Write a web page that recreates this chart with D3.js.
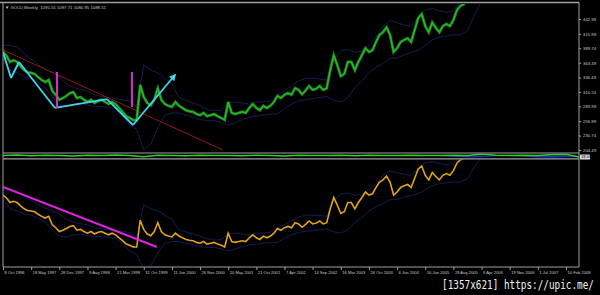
<!DOCTYPE html>
<html>
<head>
<meta charset="utf-8">
<script src="https://cdn.jsdelivr.net/npm/d3@7"></script>
<style>
  html, body { margin: 0; padding: 0; background: #000; overflow: hidden; }
</style>
</head>
<body>
<div id="chart"></div>
<script>
// date labels on the time axis, one every 32 weekly bars
const dateLabels = ["8 Oct 1996", "18 May 1997", "28 Dec 1997", "9 Aug 1998", "21 Mar 1999",
  "31 Oct 1999", "11 Jun 2000", "26 Nov 2000", "20 May 2001", "21 Oct 2001", "7 Apr 2002",
  "14 Sep 2002", "16 Mar 2003", "26 Oct 2003", "6 Jun 2004", "16 Jan 2005", "28 Aug 2005",
  "9 Apr 2006", "19 Nov 2006", "1 Jul 2007", "10 Feb 2008"];

// price scale labels (top window)
const priceTicks = [442.99, 415.99, 389.74, 363.49, 336.49, 310.24, 283.99, 256.99, 230.74, 204.49];

// gold closes, one value every 4 weeks
const closes = [383, 376, 365, 368, 365, 357, 350, 346, 345, 343,
  337, 332, 328, 332, 312, 305, 296, 299, 303, 308,
  310, 299, 301, 296, 292, 296, 290, 294, 296, 292,
  288, 292, 288, 281, 274, 266, 263, 259, 259, 323,
  301, 290, 286, 296, 317, 296, 288, 285, 283, 292,
  285, 281, 277, 275, 274, 270, 268, 272, 266, 268,
  270, 266, 263, 259, 292, 272, 270, 272, 274, 272,
  281, 288, 281, 277, 285, 281, 285, 292, 303, 299,
  305, 308, 305, 317, 314, 306, 313, 321, 314, 316,
  321, 314, 317, 350, 377, 359, 339, 343, 365, 365,
  350, 365, 377, 390, 383, 386, 401, 414, 419, 428,
  414, 383, 390, 401, 405, 408, 401, 423, 445, 452,
  430, 419, 437, 427, 419, 430, 434, 430, 441, 459,
  467, 470, 485, 495, 505];

// envelope bands, one value every 8 weeks
const bandUpper = [395, 395, 392, 380, 370, 360, 352, 345, 338, 325,
  318, 315, 312, 305, 302, 300, 298, 296, 294, 282,
  360, 350, 345, 335, 325, 300, 295, 290, 285, 278,
  276, 276, 290, 292, 290, 288, 292, 292, 294, 305,
  312, 322, 330, 335, 335, 334, 332, 370, 385, 388,
  382, 385, 395, 410, 430, 440, 436, 432, 430, 445,
  460, 462, 458, 455, 458, 475, 490, 500, 510, 520, 530];
const bandLower = [372, 350, 345, 338, 335, 328, 318, 302, 285, 283,
  288, 290, 286, 284, 284, 282, 280, 266, 250, 242,
  205, 215, 245, 268, 272, 272, 268, 264, 260, 258,
  258, 255, 250, 254, 260, 264, 266, 268, 270, 270,
  280, 288, 294, 296, 298, 300, 302, 295, 292, 300,
  318, 330, 345, 355, 362, 372, 372, 378, 382, 386,
  395, 405, 410, 412, 414, 414, 422, 450, 475, 480, 490];

// small oscillator strip, one value every 16 weeks
const stripLine = [0.1, 0.3, -0.1, 0.2, 0, -0.2, 0.2, 0.1, 0.3, 0, -0.6, 0.2, 0.1, -0.1,
  0.2, 0, 0.1, -0.1, 0.2, 0.1, -0.2, 0.2, 0, 0.1, 0.2, -0.1, 0.2, 0.1, 0, 0.2,
  0.1, 0, 0.2, 0.1, 0.8, 0.2, 0, 0.2, 0.1, 0.5, 0.7, -0.8];
const stripBlue = [0, 0, 0, 0, 0, 0, 0, 0, 0, 0, 0, 0, 0, 0, 0, 0, 0, 0, 0, 0,
  0, 0, 0, 0, 0, 0, 0, 0, 0, 0, 0, 0, 0.5, 0.8, 0.7, 0.3, 0.2, 0.4, 0.8, 0.9, 0.7, 0.4];

// drawn objects: [week, price]
const redTrend = [[0, 386.6], [250, 204.5]];
const zigzag = [[0, 382.9], [9.1, 335.6], [18.2, 364.7], [59.1, 281], [118.2, 297.3], [147.8, 250], [195.5, 341]];
const magentaBars = [[61.4, 346.5, 280.9], [146.6, 346.5, 282.8]];
const lowerTrend = [[0, 402], [175, 259]];

const width = 600, height = 295;
const plot = { left: 3, right: 579, top: 3, bottom: 267 };
const smallFont = "Liberation Sans, Arial, sans-serif";

const svg = d3.select("#chart").append("svg")
  .attr("width", width)
  .attr("height", height)
  .style("display", "block")
  .style("background", "#000");

// scales
const x = d3.scaleLinear().domain([0, 640]).range([3, 566]);
const yTop = d3.scaleLinear().domain([204.49, 442.99]).range([150, 19]);
const yBot = d3.scaleLinear().domain([259, 383]).range([247, 195]);
const yStrip = d3.scaleLinear().domain([-1, 1]).range([157.6, 153.6]);

const defs = svg.append("defs");
defs.append("clipPath").attr("id", "clipTop").append("rect")
  .attr("x", plot.left).attr("y", 4).attr("width", plot.right - plot.left).attr("height", 148.5);
defs.append("clipPath").attr("id", "clipBot").append("rect")
  .attr("x", plot.left).attr("y", 159.5).attr("width", plot.right - plot.left).attr("height", plot.bottom - 159.5);
defs.append("clipPath").attr("id", "clipStrip").append("rect")
  .attr("x", plot.left).attr("y", 153.5).attr("width", plot.right - plot.left).attr("height", 4.5);
defs.append("marker")
  .attr("id", "arrow")
  .attr("viewBox", "0 0 8 8")
  .attr("refX", 6).attr("refY", 4)
  .attr("markerWidth", 7).attr("markerHeight", 7)
  .attr("markerUnits", "userSpaceOnUse")
  .attr("orient", "auto")
  .append("path").attr("d", "M0,0 L8,4 L0,8 Z").attr("fill", "#44d4ea");

const lineFor = (yScale, step) => d3.line()
  .x((d, i) => x(i * step))
  .y((d) => yScale(d));

// ---- top window ----
const topPane = svg.append("g").attr("clip-path", "url(#clipTop)");

[bandUpper, bandLower].forEach((b) => {
  topPane.append("path").datum(b)
    .attr("d", lineFor(yTop, 8))
    .attr("fill", "none").attr("stroke", "#1a2466").attr("stroke-width", 0.8);
});

topPane.append("path").datum(redTrend)
  .attr("d", d3.line().x((d) => x(d[0])).y((d) => yTop(d[1])))
  .attr("stroke", "#951515").attr("stroke-width", 1).attr("fill", "none");

topPane.append("path").datum(closes)
  .attr("d", lineFor(yTop, 4))
  .attr("fill", "none").attr("stroke", "#1b8a1b").attr("stroke-width", 2.8)
  .attr("stroke-linejoin", "miter");
topPane.append("path").datum(closes)
  .attr("d", lineFor(yTop, 4))
  .attr("fill", "none").attr("stroke", "#33c033").attr("stroke-width", 1);

// zigzag arrows
d3.pairs(zigzag).forEach(([a, b], i) => {
  topPane.append("line")
    .attr("x1", x(a[0])).attr("y1", yTop(a[1]))
    .attr("x2", x(b[0])).attr("y2", yTop(b[1]))
    .attr("stroke", "#44d4ea").attr("stroke-width", 1.8)
    .attr("marker-end", i === zigzag.length - 2 ? "url(#arrow)" : null);
});

topPane.selectAll(".vbar").data(magentaBars).enter().append("line")
  .attr("x1", (d) => x(d[0])).attr("x2", (d) => x(d[0]))
  .attr("y1", (d) => yTop(d[1])).attr("y2", (d) => yTop(d[2]))
  .attr("stroke", "#d030d0").attr("stroke-width", 2);

// ---- oscillator strip ----
const stripPane = svg.append("g").attr("clip-path", "url(#clipStrip)");
stripPane.append("path").datum(stripBlue)
  .attr("d", d3.area().x((d, i) => x(i * 16)).y0(yStrip(0)).y1((d) => yStrip(-d * 1.2)))
  .attr("fill", "#1c34b8");
stripPane.append("path").datum(stripLine)
  .attr("d", lineFor(yStrip, 16))
  .attr("fill", "none").attr("stroke", "#2fd02f").attr("stroke-width", 1.5);

// ---- bottom window ----
const botPane = svg.append("g").attr("clip-path", "url(#clipBot)");
[bandUpper, bandLower].forEach((b) => {
  botPane.append("path").datum(b)
    .attr("d", lineFor(yBot, 8))
    .attr("fill", "none").attr("stroke", "#1a2466").attr("stroke-width", 0.8);
});
botPane.append("path").datum(closes)
  .attr("d", lineFor(yBot, 4))
  .attr("fill", "none").attr("stroke", "#e0a31c").attr("stroke-width", 1.6);
botPane.append("path").datum(lowerTrend)
  .attr("d", d3.line().x((d) => x(d[0])).y((d) => yBot(d[1])))
  .attr("stroke", "#e022e0").attr("stroke-width", 2).attr("fill", "none");

// ---- frame ----
const frame = svg.append("g").attr("stroke", "#a0a0a0").attr("fill", "none");
frame.append("line").attr("x1", 0).attr("x2", plot.right).attr("y1", 2.5).attr("y2", 2.5).attr("stroke-width", 1.5);
frame.append("line").attr("x1", plot.left).attr("x2", plot.left).attr("y1", 2.5).attr("y2", plot.bottom);
frame.append("line").attr("x1", plot.right).attr("x2", plot.right).attr("y1", 2.5).attr("y2", plot.bottom);
frame.append("line").attr("x1", plot.left).attr("x2", plot.right).attr("y1", plot.bottom).attr("y2", plot.bottom);
frame.append("line").attr("x1", plot.left).attr("x2", plot.right).attr("y1", 153).attr("y2", 153).attr("stroke-width", 1.2);
frame.append("line").attr("x1", plot.left).attr("x2", plot.right).attr("y1", 158.8).attr("y2", 158.8).attr("stroke-width", 1.2);

// price axis
const yAxis = svg.append("g")
  .attr("transform", `translate(${plot.right},0)`)
  .call(d3.axisRight(yTop).tickValues(priceTicks).tickSize(2).tickFormat(d3.format(".2f")));
yAxis.select(".domain").remove();
yAxis.selectAll("line").attr("stroke", "#a0a0a0");
yAxis.selectAll("text").attr("fill", "#c8c8c8").attr("font-size", "4.3px")
  .attr("font-family", smallFont).attr("x", 4);

// current value box in the strip
svg.append("rect").attr("x", 580).attr("y", 154.5).attr("width", 10).attr("height", 5).attr("fill", "#d8d8d8");
svg.append("text").attr("x", 581).attr("y", 158.4).text("18.099")
  .attr("font-size", "4.2px").attr("font-family", smallFont).attr("fill", "#000");

// time axis
const xAxis = svg.append("g")
  .attr("transform", `translate(0,${plot.bottom})`)
  .call(d3.axisBottom(x).tickValues(dateLabels.map((d, i) => i * 32)).tickSize(3)
    .tickFormat((d, i) => dateLabels[i]));
xAxis.select(".domain").remove();
xAxis.selectAll("line").attr("stroke", "#a0a0a0");
xAxis.selectAll("text").attr("fill", "#c8c8c8").attr("font-size", "4.1px")
  .attr("font-family", smallFont)
  .attr("text-anchor", "start").attr("x", 1).attr("dy", 0).attr("y", 6.8);

// title
svg.append("text").attr("x", 5).attr("y", 8.5)
  .text("\u25BC GOLD,Weekly  1095.55 1097.71 1080.95 1088.51")
  .attr("font-size", "4.3px").attr("font-family", smallFont).attr("fill", "#c8c8c8")
  .attr("xml:space", "preserve");

// upload stamp
svg.append("text")
  .attr("transform", "translate(442,289) scale(0.72,1)")
  .text("[1357x621] https://upic.me/")
  .attr("font-size", "13px").attr("font-family", "DejaVu Sans Mono, monospace")
  .attr("fill", "#f0f0f0");
</script>
</body>
</html>
